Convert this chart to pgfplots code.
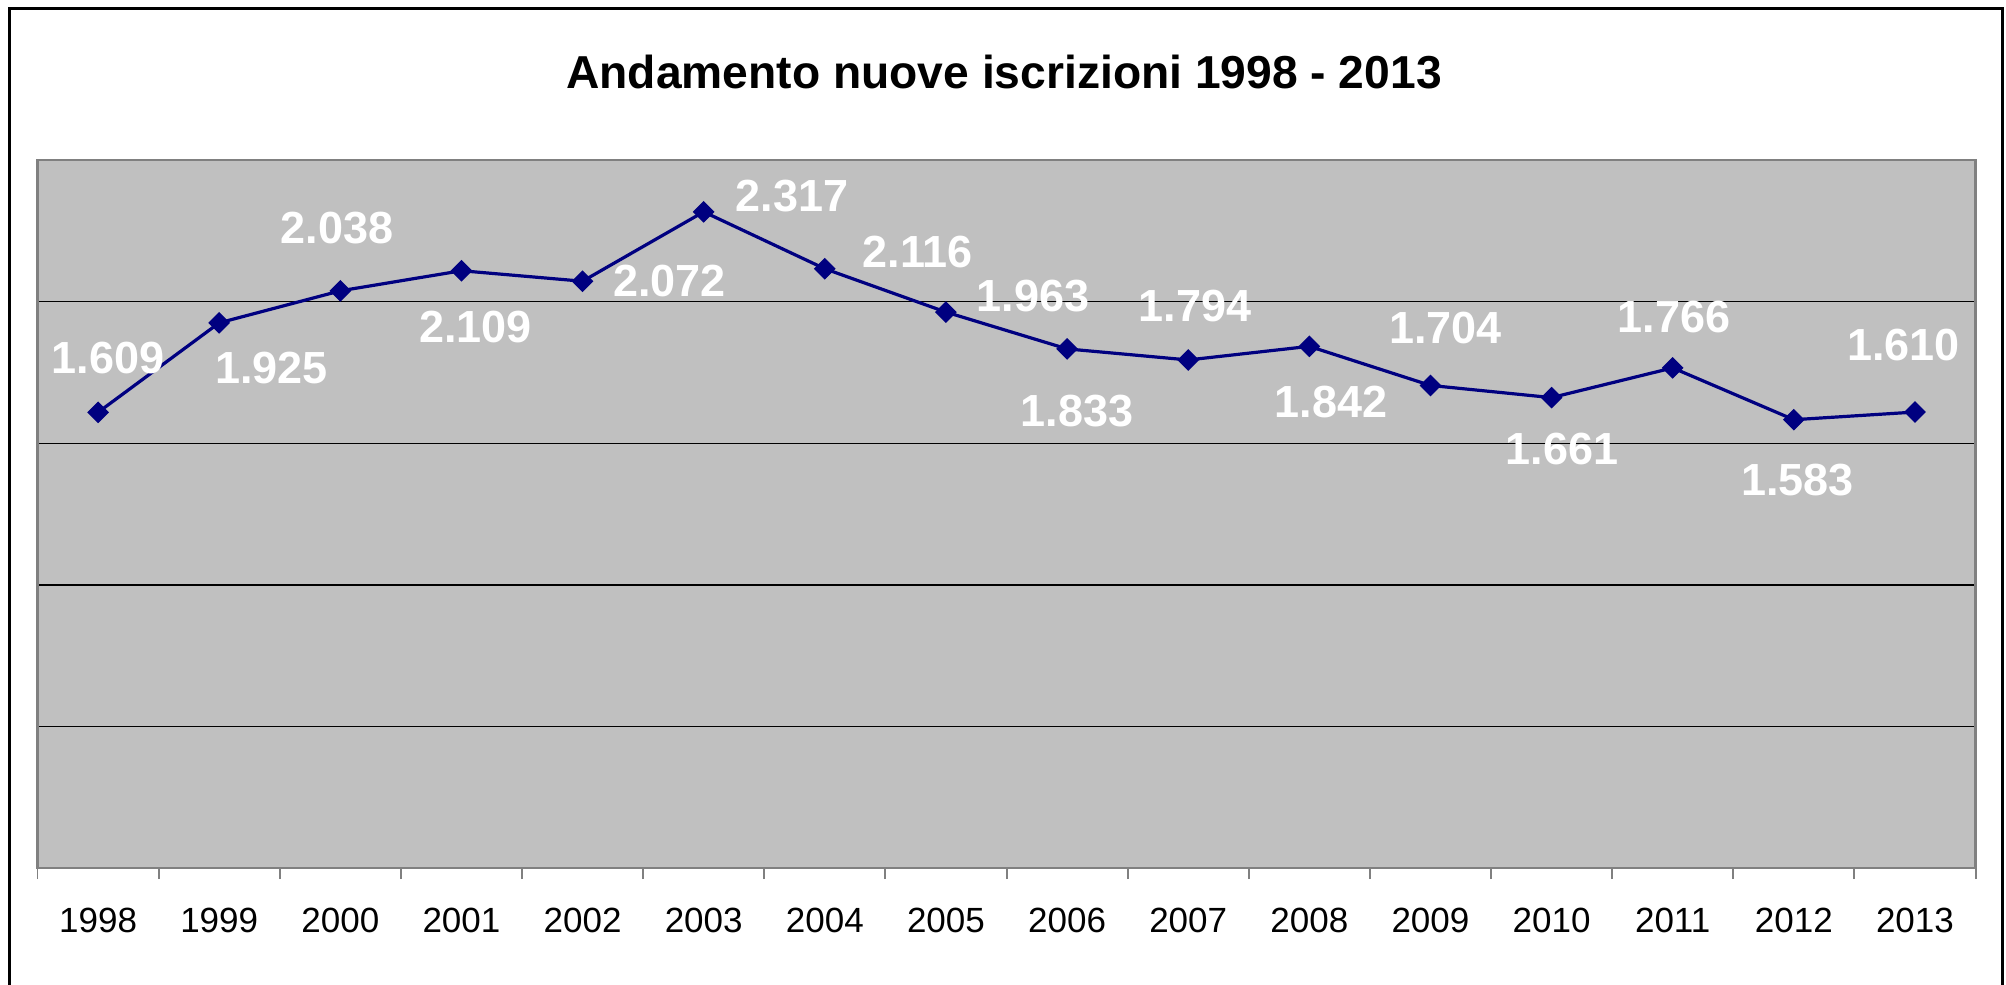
\documentclass[border=0pt]{standalone}
\usepackage{pgfplots}
\pgfplotsset{compat=1.18}
\usepackage{fontspec}
\setmainfont{Liberation Sans}
\definecolor{plotgray}{HTML}{C0C0C0}
\definecolor{bordergray}{HTML}{808080}
\definecolor{navyline}{HTML}{000080}
% label: x, value, x offset (px), y offset (px, upward)
\newcommand{\lab}[4]{%
  \addplot[draw=none, mark=none, nodes near coords, point meta=y,
    nodes near coords style={anchor=center, inner sep=0pt, text=white,
      font=\fontsize{11.25bp}{13bp}\selectfont\bfseries,
      xshift=#3*0.25bp, yshift=#4*0.25bp}]
    coordinates {(#1,#2)};}
\begin{document}
\begin{tikzpicture}
\path[use as bounding box] (0,0) rectangle (501.5bp,-246.25bp);
\draw[black, line width=0.75bp] (2.25bp,-250bp) -- (2.25bp,-2bp) -- (500.5bp,-2bp) -- (500.5bp,-250bp);
\node[font=\fontsize{11.55bp}{13bp}\selectfont\bfseries, anchor=center, inner sep=0pt] at (251bp,-18bp) {Andamento nuove iscrizioni 1998 - 2013};
\begin{axis}[
  at={(9.375bp,-217bp)}, anchor=south west,
  scale only axis, width=484.5bp, height=177bp,
  xmin=-0.5, xmax=15.5, ymin=0, ymax=2500,
  axis background/.style={fill=plotgray},
  axis line style={draw=bordergray, line width=0.6bp},
  xtick={0,...,15},
  xticklabels={1998,1999,2000,2001,2002,2003,2004,2005,2006,2007,2008,2009,2010,2011,2012,2013},
  major tick length=0pt,
  minor xtick={-0.5,0.5,...,15.5},
  minor tick length=2.75bp,
  tick align=outside,
  xtick pos=left,
  minor tick style={draw=bordergray, line width=0.5bp},
  ytick={500,1000,1500,2000},
  yticklabels={},
  ytick style={draw=none},
  ymajorgrids,
  major grid style={draw=black, line width=0.35bp},
  xticklabel style={font=\fontsize{8.75bp}{10bp}\selectfont, inner sep=0pt, anchor=north, yshift=-9.75bp},
  /pgf/number format/assume math mode=true,
  /pgf/number format/1000 sep={.},
  clip=false,
]
\addplot[navyline, line width=0.8bp, mark=square*, mark size=1.77bp,
  mark options={rotate=45, fill=navyline, draw=navyline, line width=0.3bp}]
  coordinates {
  (0,1609) (1,1925) (2,2038) (3,2109) (4,2072) (5,2317) (6,2116) (7,1963)
  (8,1833) (9,1794) (10,1842) (11,1704) (12,1661) (13,1766) (14,1583) (15,1610)
  };
\lab{0}{1609}{10}{54.5}
\lab{1}{1925}{52.5}{-45.5}
\lab{2}{2038}{-3.5}{62.5}
\lab{3}{2109}{14}{-56.5}
\lab{4}{2072}{87}{0}
\lab{5}{2317}{88.5}{16}
\lab{6}{2116}{93}{16.5}
\lab{7}{1963}{87}{16.5}
\lab{8}{1833}{10}{-62.5}
\lab{9}{1794}{7}{54}
\lab{10}{1842}{21.5}{-56}
\lab{11}{1704}{15}{57}
\lab{12}{1661}{10.5}{-51}
\lab{13}{1766}{1.5}{51}
\lab{14}{1583}{3.5}{-60}
\lab{15}{1610}{-11.5}{67}
\end{axis}
\end{tikzpicture}
\end{document}
